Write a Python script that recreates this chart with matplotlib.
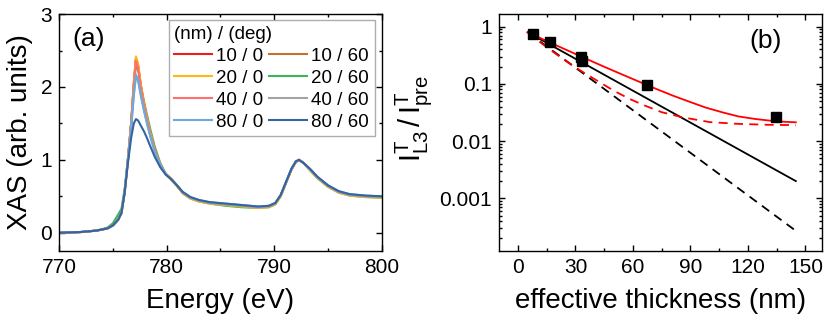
import matplotlib
matplotlib.use('Agg')
import matplotlib.pyplot as plt
import matplotlib.ticker as mticker

plt.rcParams['font.family'] = ['Liberation Sans', 'DejaVu Sans']
plt.rcParams['mathtext.fontset'] = 'custom'
plt.rcParams['mathtext.rm'] = 'Liberation Sans'
plt.rcParams['mathtext.it'] = 'Liberation Sans'

# ---- panel (a): XAS spectra ----
energy = [770, 772, 773.5, 774.5, 775, 775.5, 775.8, 776.1, 776.4, 776.7, 776.95,
          777.15, 777.35, 777.6, 777.9, 778.2, 778.5, 778.9, 779.4, 779.9, 780.4,
          780.9, 781.5, 782.2, 783, 784, 785.5, 787, 788.5, 789.5, 790.1, 790.6,
          791.1, 791.6, 792.0, 792.3, 792.7, 793.3, 794, 795, 796, 797, 798.5, 800]

xas_10_0 = [0.00, 0.01, 0.03, 0.06, 0.10, 0.18, 0.27, 0.56, 1.00, 1.50, 2.05,
            2.40, 2.30, 2.02, 1.76, 1.55, 1.36, 1.14, 0.94, 0.81, 0.74,
            0.66, 0.55, 0.48, 0.44, 0.41, 0.39, 0.37, 0.35, 0.36, 0.40, 0.51,
            0.69, 0.87, 0.97, 1.00, 0.96, 0.87, 0.76, 0.64, 0.56, 0.52, 0.50, 0.49]
xas_10_60 = [0.00, 0.01, 0.03, 0.06, 0.10, 0.18, 0.27, 0.56, 1.00, 1.49, 2.03,
             2.38, 2.28, 2.01, 1.76, 1.55, 1.36, 1.14, 0.94, 0.81, 0.74,
             0.66, 0.55, 0.48, 0.44, 0.41, 0.39, 0.37, 0.35, 0.36, 0.40, 0.51,
             0.69, 0.87, 0.97, 1.00, 0.96, 0.87, 0.76, 0.64, 0.56, 0.52, 0.50, 0.49]
xas_20_0 = [0.00, 0.01, 0.03, 0.06, 0.10, 0.18, 0.27, 0.56, 1.00, 1.50, 2.07,
            2.42, 2.32, 2.04, 1.78, 1.56, 1.37, 1.14, 0.94, 0.80, 0.73,
            0.65, 0.54, 0.47, 0.43, 0.40, 0.38, 0.36, 0.34, 0.35, 0.39, 0.50,
            0.69, 0.87, 0.97, 1.00, 0.96, 0.86, 0.75, 0.63, 0.55, 0.51, 0.49, 0.48]
xas_20_60 = [0.00, 0.01, 0.03, 0.07, 0.13, 0.25, 0.33, 0.60, 1.02, 1.50, 2.00,
             2.30, 2.24, 2.02, 1.80, 1.60, 1.41, 1.18, 0.96, 0.81, 0.73,
             0.65, 0.54, 0.47, 0.43, 0.40, 0.37, 0.35, 0.34, 0.35, 0.39, 0.50,
             0.69, 0.87, 0.97, 1.00, 0.96, 0.86, 0.75, 0.63, 0.55, 0.51, 0.49, 0.48]
xas_40_0 = [0.00, 0.01, 0.03, 0.06, 0.10, 0.18, 0.27, 0.56, 1.00, 1.48, 2.02,
            2.36, 2.26, 2.00, 1.75, 1.54, 1.35, 1.13, 0.94, 0.81, 0.74,
            0.66, 0.55, 0.48, 0.44, 0.41, 0.39, 0.37, 0.35, 0.36, 0.40, 0.51,
            0.69, 0.87, 0.97, 1.00, 0.96, 0.87, 0.76, 0.64, 0.56, 0.52, 0.50, 0.49]
xas_40_60 = [0.00, 0.01, 0.03, 0.06, 0.10, 0.18, 0.27, 0.56, 0.99, 1.44, 1.90,
             2.17, 2.10, 1.90, 1.68, 1.49, 1.32, 1.11, 0.93, 0.81, 0.74,
             0.66, 0.55, 0.48, 0.44, 0.41, 0.39, 0.37, 0.35, 0.36, 0.40, 0.51,
             0.69, 0.87, 0.97, 1.00, 0.96, 0.87, 0.76, 0.64, 0.56, 0.52, 0.50, 0.49]
xas_80_0 = [0.00, 0.01, 0.03, 0.06, 0.10, 0.18, 0.27, 0.56, 0.99, 1.43, 1.88,
            2.15, 2.08, 1.88, 1.67, 1.48, 1.31, 1.11, 0.93, 0.81, 0.74,
            0.66, 0.56, 0.49, 0.45, 0.42, 0.40, 0.38, 0.36, 0.37, 0.41, 0.52,
            0.70, 0.88, 0.98, 1.00, 0.96, 0.88, 0.77, 0.65, 0.57, 0.53, 0.51, 0.50]
xas_80_60 = [0.00, 0.01, 0.03, 0.06, 0.10, 0.18, 0.27, 0.55, 0.95, 1.30, 1.50,
             1.56, 1.54, 1.47, 1.39, 1.29, 1.18, 1.04, 0.90, 0.80, 0.74,
             0.66, 0.56, 0.49, 0.45, 0.42, 0.40, 0.38, 0.36, 0.37, 0.41, 0.52,
             0.70, 0.88, 0.98, 1.00, 0.96, 0.88, 0.77, 0.65, 0.57, 0.53, 0.51, 0.50]

labels_a = ['10 / 0', '20 / 0', '40 / 0', '80 / 0',
            '10 / 60', '20 / 60', '40 / 60', '80 / 60']
series_a = [xas_10_0, xas_20_0, xas_40_0, xas_80_0,
            xas_10_60, xas_20_60, xas_40_60, xas_80_60]
colors_a = ['#ec1c24', '#fdb913', '#ff6f6f', '#6fa8dc',
            '#c8702a', '#3cb55a', '#a3a3a3', '#3565a0']
draw_order = [4, 5, 0, 1, 2, 6, 3, 7]

# ---- panel (b): attenuation vs thickness ----
thick_meas = [7.7, 16.5, 32.7, 33.5, 67.3, 134.8]
ratio_meas = [0.75, 0.535, 0.29, 0.255, 0.094, 0.0265]

line_x = [5, 145]
black_solid_y = [0.80, 0.0020]
black_dash_y = [0.80, 0.00027]

red_solid_x = [5, 20, 34, 45, 55, 63, 72, 81, 90, 98, 107, 115, 124, 135, 145]
red_solid_y = [0.80, 0.471, 0.29, 0.199, 0.143, 0.110, 0.082, 0.062, 0.048,
               0.0385, 0.0316, 0.027, 0.0243, 0.0221, 0.0213]
red_dash_x = [5, 12, 20, 27, 34, 42, 50, 58, 66, 75, 86, 100, 115, 130, 145]
red_dash_y = [0.80, 0.52, 0.33, 0.225, 0.16, 0.11, 0.076, 0.055, 0.042, 0.032,
              0.026, 0.0215, 0.0200, 0.0193, 0.0190]

fig = plt.figure(figsize=(8.3, 3.25), dpi=100)
ax1 = fig.add_axes([0.0711, 0.2277, 0.389, 0.729])
ax2 = fig.add_axes([0.601, 0.2277, 0.389, 0.729])

handles = [None] * 8
for i in draw_order:
    h, = ax1.plot(energy, series_a[i], color=colors_a[i], lw=1.5, label=labels_a[i])
    handles[i] = h

ax1.set_xlim(770, 800)
ax1.set_ylim(-0.25, 3)
ax1.set_xticks([770, 780, 790, 800])
ax1.set_yticks([0, 1, 2, 3])
ax1.xaxis.set_minor_locator(mticker.MultipleLocator(5))
ax1.yaxis.set_minor_locator(mticker.MultipleLocator(0.5))
ax1.set_xlabel('Energy (eV)', fontsize=20, labelpad=8)
ax1.set_ylabel('XAS (arb. units)', fontsize=20, labelpad=5)
ax1.text(0.04, 0.945, '(a)', transform=ax1.transAxes, fontsize=19, va='top')

leg = ax1.legend(handles=handles, ncol=2, title='(nm) / (deg)', fontsize=13.5,
                 title_fontsize=13.5, loc='upper right', bbox_to_anchor=(0.978, 0.975),
                 borderaxespad=0, frameon=True, fancybox=False, edgecolor='#999999',
                 handlelength=2.0, handletextpad=0.25, columnspacing=0.3,
                 labelspacing=0.26, borderpad=0.3, alignment='left')
leg.get_frame().set_linewidth(1.0)

ax2.plot(line_x, black_solid_y, color='black', lw=1.3)
ax2.plot(line_x, black_dash_y, color='black', lw=1.3, ls=(0, (5, 3.5)))
ax2.plot(red_solid_x, red_solid_y, color='#ff0000', lw=1.3)
ax2.plot(red_dash_x, red_dash_y, color='#ff0000', lw=1.3, ls=(0, (5, 3.5)))
ax2.plot(thick_meas, ratio_meas, ls='none', marker='s', ms=6.5, color='black')

ax2.set_yscale('log')
ax2.set_xlim(-10, 158.5)
ax2.set_ylim(1.2e-4, 1.66)
ax2.set_xticks([0, 30, 60, 90, 120, 150])
ax2.xaxis.set_minor_locator(mticker.MultipleLocator(15))
ax2.set_yticks([1, 0.1, 0.01, 0.001])
ax2.set_yticklabels(['1', '0.1', '0.01', '0.001'])
ax2.yaxis.set_minor_locator(mticker.LogLocator(base=10, subs=range(2, 10)))
ax2.yaxis.set_minor_formatter(mticker.NullFormatter())
ax2.set_xlabel('effective thickness (nm)', fontsize=20, labelpad=8)
ax2.set_ylabel(r'$\mathregular{I^T_{L3}\,/\,I^T_{pre}}$', fontsize=21, labelpad=4)
ax2.yaxis.set_label_coords(-0.2, 0.56)
ax2.text(0.876, 0.935, '(b)', transform=ax2.transAxes, fontsize=19, va='top', ha='right')

for ax in (ax1, ax2):
    ax.tick_params(which='both', direction='in', top=True, right=True,
                   labelsize=15, width=1.0)
    ax.tick_params(which='major', length=4.5, pad=5)
    ax.tick_params(which='minor', length=2.5)
    for sp in ax.spines.values():
        sp.set_linewidth(1.0)

fig.savefig('out.png', dpi=100)
